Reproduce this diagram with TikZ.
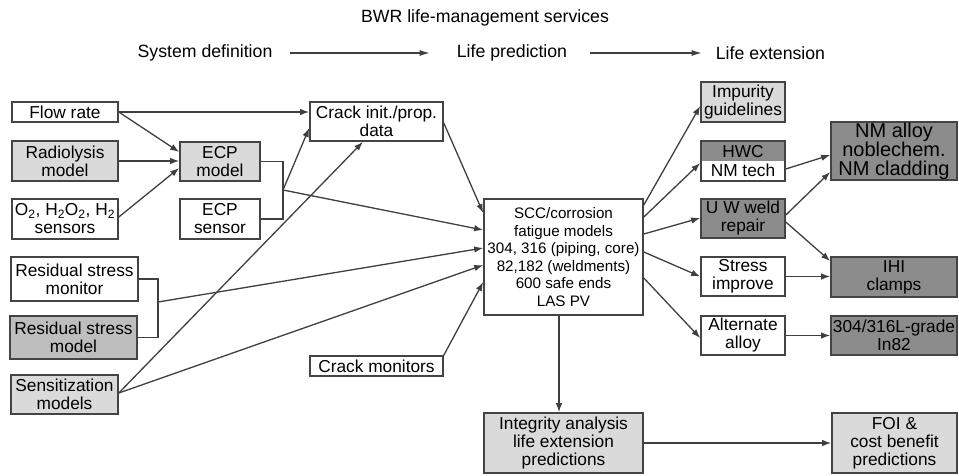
\documentclass[tikz,border=0pt]{standalone}
\usepackage{fontspec}
\setmainfont{Liberation Sans}
\usetikzlibrary{arrows.meta}

\definecolor{edge}{HTML}{444444}
\definecolor{wire}{HTML}{3F3F3F}
\definecolor{lightfill}{HTML}{DADADA}
\definecolor{midfill}{HTML}{BEBEBE}
\definecolor{darkfill}{HTML}{8C8C8C}

\newcommand{\fsbox}{\fontsize{17.3}{18}\selectfont}
\newcommand{\fsbig}{\fontsize{20}{19}\selectfont}
\newcommand{\fscore}{\fontsize{15.2}{17.5}\selectfont}
\newcommand{\fshead}{\fontsize{17.7}{20}\selectfont}

\tikzset{
  box/.style={draw=edge, line width=1.6pt, inner sep=0pt, align=center,
              font=\fsbox, text=black},
  plain/.style={box, fill=white},
  light/.style={box, fill=lightfill},
  mid/.style={box, fill=midfill},
  dark/.style={box, fill=darkfill},
  wireline/.style={draw=wire, line width=1.3pt},
  arr/.style={wireline, -{Latex[length=9pt,width=6.5pt]}},
  headtext/.style={inner sep=0pt, font=\fshead},
  headarr/.style={draw=wire, line width=1.2pt, -{Latex[length=10pt,width=6pt]}}
}

\begin{document}
\begin{tikzpicture}[x=1pt, y=-1pt]
\useasboundingbox (0,0) rectangle (959,475);

% heading row
\node[headtext] (title) at (485,18) {BWR life-management services};
\node[headtext] (sysdef) at (205,53) {System definition};
\node[headtext] (lifepred) at (512,53) {Life prediction};
\node[headtext] (lifeext) at (770.5,53) {Life extension};
\draw[headarr, shorten <=17pt, shorten >=27pt] (sysdef.east) -- (lifepred.west);
\draw[headarr, shorten <=23pt, shorten >=14pt] (lifepred.east) -- (lifeext.west);

% system definition inputs
\node[plain, minimum width=106, minimum height=20] (flow) at (65,112) {Flow rate};
\node[light, minimum width=106, minimum height=40] (radio) at (65,161) {Radiolysis\\model};
\node[plain, minimum width=106, minimum height=40] (sensors) at (65,219)
  {O\textsubscript{2}, H\textsubscript{2}O\textsubscript{2}, H\textsubscript{2}\\sensors};
\node[light, minimum width=80, minimum height=39] (ecpm) at (220,161.5) {ECP\\model};
\node[plain, minimum width=80, minimum height=40] (ecps) at (220,219) {ECP\\sensor};
\node[plain, minimum width=133, minimum height=39] (crack) at (376.5,121.5) {Crack init./prop.\\data};
\node[plain, minimum width=127, minimum height=44] (rsmon) at (74.5,279) {Residual stress\\monitor};
\node[mid, minimum width=127, minimum height=43] (rsmod) at (73.5,337.5) {Residual stress\\model};
\node[light, minimum width=107, minimum height=39] (sens) at (64.5,394.5) {Sensitization\\models};
\node[plain, minimum width=133, minimum height=20] (crackmon) at (376.5,366) {Crack monitors};

% life prediction
\node[plain, minimum width=159, minimum height=116, font=\fscore] (scc) at (563.5,257)
  {SCC/corrosion\\fatigue models\\304, 316 (piping, core)\\82,182 (weldments)\\600 safe ends\\LAS PV};
\node[light, minimum width=159, minimum height=60] (integ) at (563.5,443)
  {Integrity analysis\\life extension\\predictions};

% life extension options
\node[light, minimum width=84, minimum height=40] (imp) at (743,102) {Impurity\\guidelines};
\node[plain, minimum width=84, minimum height=40,
      path picture={\fill[darkfill] (path picture bounding box.north west)
                    rectangle (path picture bounding box.east);}]
  (hwc) at (743,161) {HWC\\[1.5pt]NM tech};
\node[dark, minimum width=84, minimum height=39] (uw) at (743,218.5) {U W weld\\repair};
\node[plain, minimum width=84, minimum height=39] (stress) at (743,276.5) {Stress\\improve};
\node[plain, minimum width=84, minimum height=39] (alt) at (743,335.5) {Alternate\\alloy};
\node[dark, minimum width=126, minimum height=58, font=\fsbig] (nm) at (894,151)
  {NM alloy\\noblechem.\\NM cladding};
\node[dark, minimum width=126, minimum height=40] (ihi) at (894,277) {IHI\\clamps};
\node[dark, minimum width=126, minimum height=39] (grade) at (894,335.5) {304/316L-grade\\In82};
\node[light, minimum width=125, minimum height=60] (foi) at (894.5,443)
  {FOI \&\\cost benefit\\predictions};

% junction points of the two brackets
\coordinate (ej) at (283,190);
\coordinate (rj) at (158,302);

% inputs to the ECP model and crack data
\draw[arr] (flow.east) -- (crack.west |- flow.east);
\draw[arr] (flow.east) -- (ecpm.west |- 0,152);
\draw[arr] (radio.east) -- (ecpm.west |- radio.east);
\draw[arr] (sensors.east |- 0,217) -- (ecpm.west |- 0,168);

% ECP bracket
\draw[wireline] (ecpm.east) -| (ej) |- (ecps.east);
\draw[arr] (ej) -- (crack.west |- 0,128);
\draw[arr] (ej) -- (scc.west |- 0,230);

% residual stress bracket
\draw[wireline] (rsmon.east) -| (rj) |- (rsmod.east);
\draw[arr] (rj) -- (scc.west |- 0,248);

% remaining inputs to the models
\draw[arr] (crack.east |- 0,123) -- (scc.west |- 0,213);
\draw[arr] (sens.east |- 0,393) -- (crack.south -| 363,0);
\draw[arr] (sens.east |- 0,393) -- (scc.west |- 0,265);
\draw[arr] (crackmon.north east) -- (scc.west |- 0,282);

% from the models to the life extension options
\draw[arr] (scc.east |- 0,205) -- (imp.west |- 0,106);
\draw[arr] (scc.east |- 0,217) -- (hwc.west |- 0,163);
\draw[arr] (scc.east |- 0,234) -- (uw.west |- 0,218);
\draw[arr] (scc.east |- 0,252) -- (stress.west);
\draw[arr] (scc.east |- 0,278) -- (alt.west |- 0,338);

\draw[arr] (hwc.east |- 0,169) -- (nm.west |- 0,155);
\draw[arr] (uw.east |- 0,215) -- (nm.west |- 0,172);
\draw[arr] (uw.east |- 0,222) -- (ihi.west |- 0,261);
\draw[arr] (stress.east) -- (ihi.west |- stress.east);
\draw[arr] (alt.east) -- (grade.west |- alt.east);

% integrity analysis and cost benefit
\draw[arr] (scc.south -| 559,0) -- (integ.north -| 559,0);
\draw[arr] (integ.east) -- (foi.west);
\end{tikzpicture}
\end{document}
